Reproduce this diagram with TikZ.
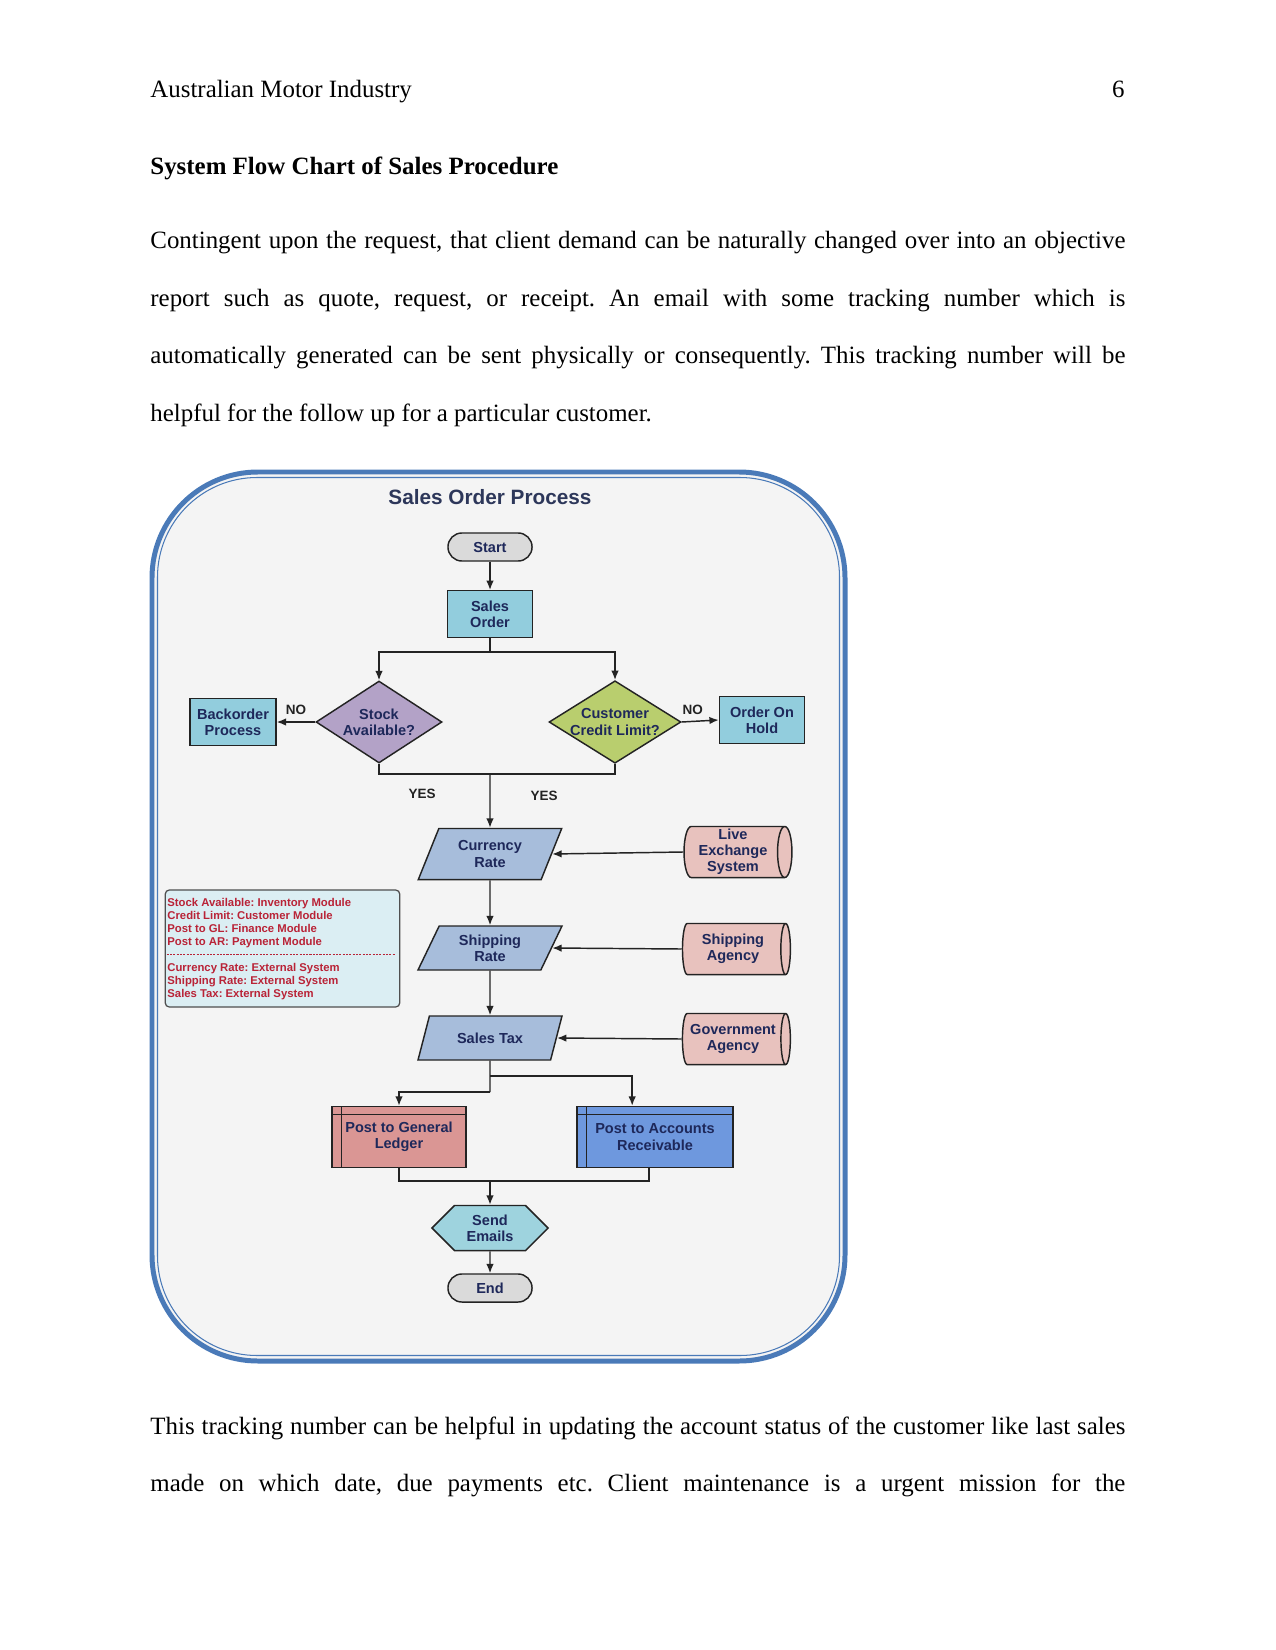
\documentclass[tikz,border=0pt]{standalone}
\usepackage{fontspec}
\setmainfont{Liberation Serif}
\newfontfamily\chartfont{Liberation Sans}
\usetikzlibrary{arrows.meta, positioning, shapes.geometric, shapes.symbols}
\frenchspacing

\definecolor{navy}{RGB}{30,40,90}
\definecolor{lineg}{RGB}{35,35,35}
\definecolor{termg}{RGB}{218,218,218}
\definecolor{procb}{RGB}{146,205,221}
\definecolor{stockp}{RGB}{179,162,199}
\definecolor{creditg}{RGB}{185,206,110}
\definecolor{iob}{RGB}{167,189,219}
\definecolor{extp}{RGB}{232,194,190}
\definecolor{legc}{RGB}{219,238,243}
\definecolor{legr}{RGB}{185,35,55}
\definecolor{glred}{RGB}{218,150,148}
\definecolor{arblue}{RGB}{110,152,222}
\definecolor{sendc}{RGB}{158,211,222}
\definecolor{frameb}{RGB}{74,122,184}
\definecolor{backg}{RGB}{244,244,244}
\definecolor{titlec}{RGB}{45,55,90}

\begin{document}
\begin{tikzpicture}[x=0.4818pt, y=-0.4818pt,
        % Page text: Times-like, 12pt
        body/.style={inner sep=0pt, anchor=base west, font=\fontsize{12}{14}\selectfont},
        % Chart boxes: thin dark border, bold sans text
        box/.style={rectangle, draw=lineg, line width=0.7pt, inner sep=1pt,
            align=center, text=navy, font=\chartfont\bfseries\fontsize{7}{7.8}\selectfont},
        term/.style={box, rounded corners=6.7pt, fill=termg,
            minimum width=40.5pt, minimum height=13.5pt},
        proc/.style={box, fill=procb, minimum width=41pt, minimum height=22.4pt},
        decide/.style={box, diamond, aspect=1.6, inner sep=0pt},
        io/.style={box, trapezium, trapezium left angle=66, trapezium right angle=114,
            trapezium stretches=true, fill=iob, minimum width=69.4pt},
        % cylinder lies on its side, so width and height swap
        ext/.style={box, cylinder, aspect=0.3, fill=extp, inner sep=0.5pt,
            minimum width=24.6pt, minimum height=52pt},
        % Stored data: box with an inner frame line left and top
        store/.style={box, minimum height=29.4pt, path picture={
            \draw[line width=0.7pt, draw=lineg]
                ([xshift=4.5pt]path picture bounding box.north west) --
                ([xshift=4.5pt]path picture bounding box.south west)
                ([yshift=-3.8pt]path picture bounding box.north west) --
                ([yshift=-3.8pt]path picture bounding box.north east);}},
        legtext/.style={inner sep=0pt, anchor=north west, align=left, text=legr,
            font=\chartfont\bfseries\fontsize{5.45}{6.2}\selectfont},
        arr/.style={line width=0.7pt, draw=lineg, -{Latex[length=4.5pt, width=3.6pt]}},
        link/.style={line width=0.7pt, draw=lineg},
        lbl/.style={font=\chartfont\bfseries\fontsize{6.5}{7}\selectfont, text=lineg, inner sep=1pt},
        ]
        \useasboundingbox (0,0) rectangle (1275,1650);

        % === Page text ===
        \node[body] (head) at (150,98) {Australian Motor Industry};
        \node[body, anchor=base east] (pnum) at (1125,98) {6};
        \node[body, font=\fontsize{12}{14}\selectfont\bfseries] (sect) at (150,175)
            {System Flow Chart of Sales Procedure};
        \node[body] (p1) at (150,249) {\makebox[6.5in][s]{Contingent upon the request, that client demand can be naturally changed over into an objective}};
        \node[body] (p2) at (150,307) {\makebox[6.5in][s]{report such as quote, request, or receipt. An email with some tracking number which is}};
        \node[body] (p3) at (150,364) {\makebox[6.5in][s]{automatically generated can be sent physically or consequently. This tracking number will be}};
        \node[body] (p4) at (150,422) {helpful for the follow up for a particular customer.};
        \node[body] (q1) at (150,1434) {\makebox[6.5in][s]{This tracking number can be helpful in updating the account status of the customer like last sales}};
        \node[body] (q2) at (150,1491) {\makebox[6.5in][s]{made on which date, due payments etc. Client maintenance is a urgent mission for the}};

        % === Frame of the chart ===
        \draw[line width=2.4pt, draw=frameb, fill=backg, rounded corners=51pt]
            (152,472) rectangle (845,1361);
        \draw[line width=0.5pt, draw=frameb, rounded corners=48pt]
            (157.5,477.5) rectangle (839.5,1355.5);
        \node[font=\chartfont\bfseries\fontsize{10}{12}\selectfont, text=titlec] (title) at (490,497)
            {Sales Order Process};

        % === Main column ===
        \node[term] (start) at (490,547) {Start};
        \node[proc] (so) at (490,614) {Sales\\Order};
        \node[decide, fill=stockp, minimum width=60.7pt, minimum height=39.5pt] (stock) at (379,722)
            {Stock\\Available?};
        \node[decide, fill=creditg, minimum width=63pt, minimum height=38.5pt] (credit) at (615,722)
            {Customer\\Credit Limit?};
        \node[proc, minimum width=41.4pt] (back) at (233,722) {Backorder\\Process};
        \node[proc, minimum height=22.6pt] (hold) at (762,720) {Order On\\Hold};
        \node[io, minimum height=24.6pt] (cur) at (490,854) {Currency\\Rate};
        \node[io, minimum height=21.2pt] (ship) at (490,948) {Shipping\\Rate};
        \node[io, minimum height=21.2pt] (tax) at (490,1038) {Sales Tax};

        % === External sources ===
        \node[ext] (live) at (733,852) {Live\\Exchange\\System};
        \node[ext] (agency) at (733,949) {Shipping\\Agency};
        \node[ext] (gov) at (733,1039) {Government\\Agency};

        % === Legend ===
        \node[rectangle, rounded corners=2pt, draw=lineg!80, line width=0.6pt, fill=legc,
            minimum width=113pt, minimum height=56.4pt] (legend) at (282.5,948.5) {};
        \node[legtext] (legtop) at (167,898) {Stock Available: Inventory Module\\
            Credit Limit: Customer Module\\Post to GL: Finance Module\\Post to AR: Payment Module};
        \node[legtext] (legbot) at (167,963) {Currency Rate: External System\\
            Shipping Rate: External System\\Sales Tax: External System};
        \draw[legr, line width=0.5pt, dash pattern=on 1pt off 0.6pt]
            ([shift={(1pt,-3.1pt)}]legend.west) -- ([shift={(-2.4pt,-3.1pt)}]legend.east);

        % === Posting and closing ===
        \node[store, fill=glred, minimum width=64.6pt] (gl) at (399,1137) {Post to General\\Ledger};
        \node[store, fill=arblue, minimum width=75.2pt] (ar) at (655,1137) {Post to Accounts\\Receivable};
        \node[box, signal, signal to=east and west, fill=sendc,
            minimum width=55.9pt, minimum height=21.7pt] (send) at (490,1228) {Send\\Emails};
        \node[term] (stop) at (490,1288) {End};

        % === Connectors ===
        \coordinate (split1) at (490,652);
        \coordinate (merge1) at (490,774);
        \coordinate (split2) at (490,1076);
        \coordinate (split3) at (490,1092);
        \coordinate (merge2) at (490,1181);

        \draw[arr] (start) -- (so);
        \draw[link] (so) -- (split1);
        \draw[arr] (split1) -| (stock.north);
        \draw[arr] (split1) -| (credit.north);
        \draw[arr] (stock.west) -- node[lbl, above=2pt] {NO} (back.east);
        \draw[arr] (credit.east) -- node[lbl, above=2pt, pos=0.3] {NO} (hold.west);
        \draw[link] (stock.south) |- (merge1);
        \draw[link] (credit.south) |- (merge1);
        \draw[arr] (merge1) -- (cur.north);
        \node[lbl] (yes1) at (422,794) {YES};
        \node[lbl] (yes2) at (544,796) {YES};
        \draw[arr] (cur) -- (ship);
        \draw[arr] (ship) -- (tax);
        \draw[arr] (live.west) -- (cur.east);
        \draw[arr] (agency.west) -- (ship.east);
        \draw[arr] (gov.west) -- (tax.east);
        \draw[link] (tax.south) -- (split3);
        \draw[arr] (split2) -| ([xshift=-11pt]ar.north);
        \draw[arr] (split3) -| (gl.north);
        \draw[link] (gl.south) |- (merge2);
        \draw[link] ([xshift=-3pt]ar.south) |- (merge2);
        \draw[arr] (merge2) -- (send.north);
        \draw[arr] (send) -- (stop);

    \end{tikzpicture}
\end{document}
